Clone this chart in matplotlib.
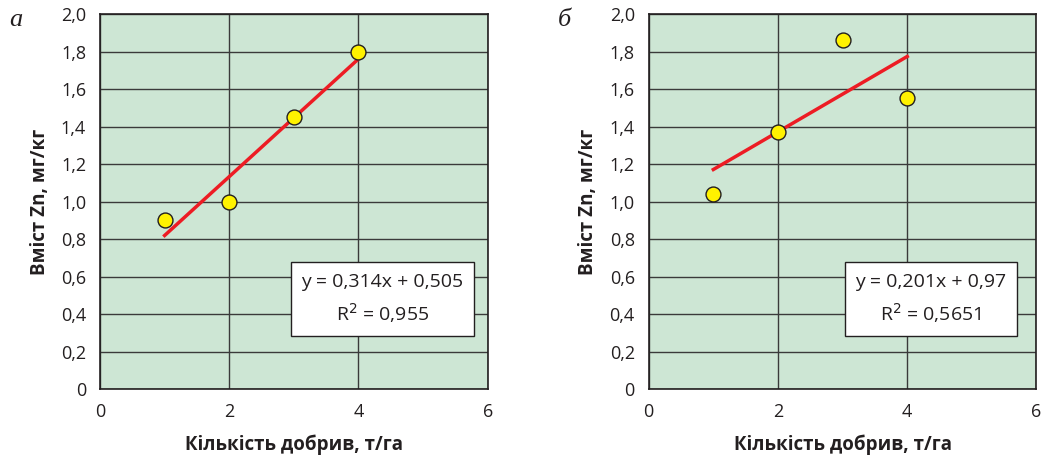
import numpy as np
import matplotlib.pyplot as plt

# data
fert = [1, 2, 3, 4]
zn_a = [0.90, 1.00, 1.45, 1.80]
zn_b = [1.04, 1.37, 1.86, 1.555]
fit_a = (0.314, 0.505)
fit_b = (0.201, 0.97)
eq_a = ["y = 0,314x + 0,505", "R$^{2}$ = 0,955"]
eq_b = ["y = 0,201x + 0,97", "R$^{2}$ = 0,5651"]
letters = ["а", "б"]
yticks = [0, 0.2, 0.4, 0.6, 0.8, 1.0, 1.2, 1.4, 1.6, 1.8, 2.0]
ytick_labels = ["0", "0,2", "0,4", "0,6", "0,8", "1,0", "1,2", "1,4", "1,6", "1,8", "2,0"]
xticks = [0, 2, 4, 6]

plt.rcParams['font.family'] = ['Open Sans', 'DejaVu Sans']

fig = plt.figure(figsize=(10.48, 4.55), dpi=100)
ax_a = fig.add_axes([0.0954, 0.145, 0.370, 0.824])
ax_b = fig.add_axes([0.619, 0.145, 0.370, 0.824])

panels = [(ax_a, zn_a, fit_a, eq_a, letters[0]), (ax_b, zn_b, fit_b, eq_b, letters[1])]
for ax, zn, fit, eq, letter in panels:
    ax.set_facecolor('#cde6d4')
    ax.set_xlim(0, 6)
    ax.set_ylim(0, 2.0)
    ax.set_xticks(xticks)
    ax.set_yticks(yticks)
    ax.set_yticklabels(ytick_labels)
    ax.tick_params(length=0, labelsize=13, colors='#231f20', pad=10)
    ax.grid(True, color='#3a3a3a', linewidth=1.0)
    ax.set_axisbelow(True)
    for s in ax.spines.values():
        s.set_color('#231f20')
        s.set_linewidth(1.2)

    # trend line
    x = np.array([fert[0], fert[-1]])
    ax.plot(x, fit[0] * x + fit[1], color='#ed1c24', linewidth=2.5, zorder=3)
    ax.scatter(fert, zn, s=115, color='#fff200', edgecolor='#231f20', linewidth=1.0, zorder=4)

    ax.text(0.728, 0.24, eq[0] + "\n" + eq[1], transform=ax.transAxes, ha='center', va='center',
            fontsize=14, color='#231f20', linespacing=1.55,
            bbox=dict(boxstyle='square,pad=0.55', facecolor='white', edgecolor='#231f20', linewidth=1.0))

    ax.set_xlabel('Кількість добрив, т/га', fontsize=13.5, fontweight='bold', color='#231f20', labelpad=10)
    ax.set_ylabel('Вміст Zn, мг/кг', fontsize=13.5, fontweight='bold', color='#231f20', labelpad=8)
    ax.text(-0.235, 0.985, letter, transform=ax.transAxes, fontsize=19, style='italic',
            family='Liberation Serif', color='#231f20', va='center')

fig.savefig('out.png', dpi=100)
